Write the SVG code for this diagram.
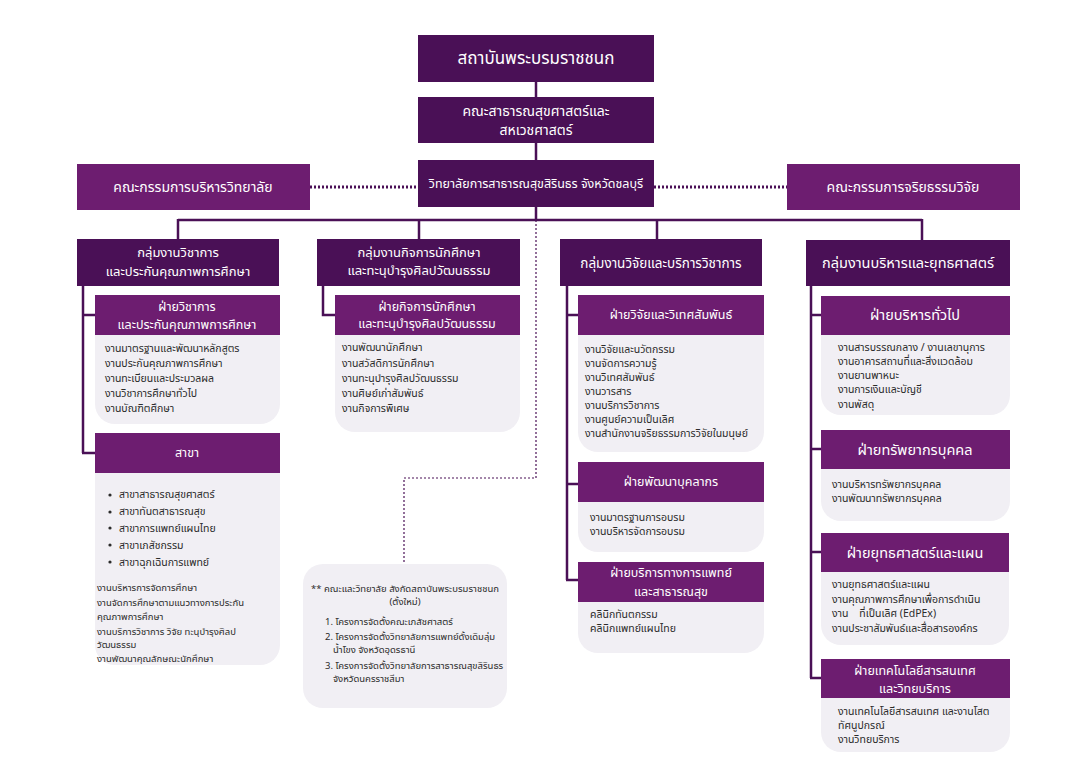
<svg xmlns="http://www.w3.org/2000/svg" width="1070" height="768" viewBox="0 0 1070 768">
<style>
text{font-family:"Noto Sans Thai","Noto Sans","Liberation Sans",sans-serif}
.dk{fill:#4a1056}
.mg{fill:#6d1d70}
.bd{fill:#f1eff4}
.wt{fill:#fff;text-anchor:middle}
.it{fill:#2b2b2b;font-size:10.5px}
.nt{fill:#2b2b2b;font-size:9.5px}
.ln{stroke:#4a1056;stroke-width:2.5;fill:none}
.dot{stroke:#4a1056;stroke-width:3;stroke-dasharray:2 2;fill:none}
.dot2{stroke:#4a1056;stroke-width:1.2;stroke-dasharray:2 2;fill:none}
</style>
<rect width="1070" height="768" fill="#fff"/>
<g id="connectors">
<path class="ln" d="M536 82V97M536 143V160M536 207V220M178 220H922M178 219V239M419 219V239M657 219V239M922 219V241"/>
<path class="dot" d="M310 187H418M654 187H787"/>
<path class="dot2" d="M536 220V478H404V564"/>
<path class="ln" d="M83 285V453M82 315H96M82 453H96"/>
<path class="ln" d="M323 285V315H336"/>
<path class="ln" d="M567 285V580M566 315H579M566 484H579M566 580H579"/>
<path class="ln" d="M811 285V678M810 315H822M810 449H822M810 552H822M810 678H822"/>
</g>
<g id="n-institute"><rect class="dk" x="418" y="35" width="236" height="47"/><text class="wt" x="536" y="64" font-size="17">สถาบันพระบรมราชชนก</text></g>
<g id="n-faculty"><rect class="dk" x="418" y="97" width="236" height="46"/><text class="wt" x="536" y="116" font-size="14">คณะสาธารณสุขศาสตร์และ</text><text class="wt" x="536" y="135" font-size="14">สหเวชศาสตร์</text></g>
<g id="n-college"><rect class="dk" x="418" y="160" width="236" height="47"/><text class="wt" x="536" y="188" font-size="12.5">วิทยาลัยการสาธารณสุขสิรินธร จังหวัดชลบุรี</text></g>
<g id="n-board"><rect class="mg" x="77" y="164" width="233" height="46"/><text class="wt" x="193" y="192" font-size="14">คณะกรรมการบริหารวิทยาลัย</text></g>
<g id="n-ethics"><rect class="mg" x="787" y="164" width="233" height="46"/><text class="wt" x="903" y="192" font-size="14">คณะกรรมการจริยธรรมวิจัย</text></g>

<g id="g1"><rect class="dk" x="77" y="239" width="202" height="47"/><text class="wt" x="178" y="257" font-size="13">กลุ่มงานวิชาการ</text><text class="wt" x="178" y="276" font-size="13">และประกันคุณภาพการศึกษา</text></g>
<g id="g2"><rect class="dk" x="317" y="239" width="203" height="47"/><text class="wt" x="419" y="257" font-size="13">กลุ่มงานกิจการนักศึกษา</text><text class="wt" x="419" y="275" font-size="13">และทะนุบำรุงศิลปวัฒนธรรม</text></g>
<g id="g3"><rect class="dk" x="560" y="239" width="202" height="47"/><text class="wt" x="661" y="268" font-size="13.5">กลุ่มงานวิจัยและบริการวิชาการ</text></g>
<g id="g4"><rect class="dk" x="806" y="240" width="204" height="46"/><text class="wt" x="908" y="268" font-size="14.5">กลุ่มงานบริหารและยุทธศาสตร์</text></g>

<g id="s1a"><rect class="bd" x="95" y="295" width="185" height="129" rx="20"/><rect class="mg" x="95" y="295" width="185" height="40"/>
<text class="wt" x="187" y="311" font-size="12.5">ฝ่ายวิชาการ</text><text class="wt" x="187" y="329" font-size="12.5">และประกันคุณภาพการศึกษา</text>
<text class="it" x="105" y="352">งานมาตรฐานและพัฒนาหลักสูตร</text><text class="it" x="105" y="367">งานประกันคุณภาพการศึกษา</text><text class="it" x="105" y="382">งานทะเบียนและประมวลผล</text><text class="it" x="105" y="397">งานวิชาการศึกษาทั่วไป</text><text class="it" x="105" y="412">งานบัณฑิตศึกษา</text></g>

<g id="s1b"><rect class="bd" x="95" y="433" width="185" height="232" rx="20"/><rect class="mg" x="95" y="433" width="185" height="40"/>
<text class="wt" x="187" y="457" font-size="12.5">สาขา</text>
<g><circle cx="110" cy="495" r="1.6" fill="#2b2b2b"/><circle cx="110" cy="512" r="1.6" fill="#2b2b2b"/><circle cx="110" cy="528" r="1.6" fill="#2b2b2b"/><circle cx="110" cy="545" r="1.6" fill="#2b2b2b"/><circle cx="110" cy="562" r="1.6" fill="#2b2b2b"/></g>
<text class="it" x="119" y="498">สาขาสาธารณสุขศาสตร์</text><text class="it" x="119" y="515">สาขาทันตสาธารณสุข</text><text class="it" x="119" y="532">สาขาการแพทย์แผนไทย</text><text class="it" x="119" y="549">สาขาเภสัชกรรม</text><text class="it" x="119" y="566">สาขาฉุกเฉินการแพทย์</text>
<text class="nt" x="97" y="591">งานบริหารการจัดการศึกษา</text><text class="nt" x="97" y="606">งานจัดการศึกษาตามแนวทางการประกัน</text><text class="nt" x="97" y="620">คุณภาพการศึกษา</text><text class="nt" x="97" y="635">งานบริการวิชาการ วิจัย ทะนุบำรุงศิลป</text><text class="nt" x="97" y="648">วัฒนธรรม</text><text class="nt" x="97" y="662">งานพัฒนาคุณลักษณะนักศึกษา</text></g>

<g id="s2"><rect class="bd" x="335" y="295" width="185" height="137" rx="20"/><rect class="mg" x="335" y="295" width="185" height="40"/>
<text class="wt" x="427" y="311" font-size="12.5">ฝ่ายกิจการนักศึกษา</text><text class="wt" x="427" y="328" font-size="12.5">และทะนุบำรุงศิลปวัฒนธรรม</text>
<text class="it" x="342" y="351">งานพัฒนานักศึกษา</text><text class="it" x="342" y="367">งานสวัสดิการนักศึกษา</text><text class="it" x="342" y="382">งานทะนุบำรุงศิลปวัฒนธรรม</text><text class="it" x="342" y="397">งานศิษย์เก่าสัมพันธ์</text><text class="it" x="342" y="412">งานกิจการพิเศษ</text></g>

<g id="note"><rect class="bd" x="303" y="564" width="204" height="144" rx="20"/>
<text class="nt" x="405" y="592" text-anchor="middle">** คณะและวิทยาลัย สังกัดสถาบันพระบรมราชชนก</text><text class="nt" x="405" y="605" text-anchor="middle">(ตั้งใหม่)</text>
<text class="nt" x="325" y="625">1. โครงการจัดตั้งคณะเภสัชศาสตร์</text><text class="nt" x="325" y="640">2. โครงการจัดตั้งวิทยาลัยการแพทย์ดั้งเดิมลุ่ม</text><text class="nt" x="333" y="653">น้ำโขง จังหวัดอุดรธานี</text><text class="nt" x="325" y="669">3. โครงการจัดตั้งวิทยาลัยการสาธารณสุขสิรินธร</text><text class="nt" x="333" y="682">จังหวัดนครราชสีมา</text></g>

<g id="s3a"><rect class="bd" x="578" y="295" width="186" height="157" rx="20"/><rect class="mg" x="578" y="295" width="186" height="40"/>
<text class="wt" x="671" y="319" font-size="12.5">ฝ่ายวิจัยและวิเทศสัมพันธ์</text>
<text class="it" x="585" y="353">งานวิจัยและนวัตกรรม</text><text class="it" x="585" y="367">งานจัดการความรู้</text><text class="it" x="585" y="381">งานวิเทศสัมพันธ์</text><text class="it" x="585" y="395">งานวารสาร</text><text class="it" x="585" y="409">งานบริการวิชาการ</text><text class="it" x="585" y="423">งานศูนย์ความเป็นเลิศ</text><text class="it" x="585" y="437">งานสำนักงานจริยธรรมการวิจัยในมนุษย์</text></g>

<g id="s3b"><rect class="bd" x="578" y="462" width="186" height="90" rx="20"/><rect class="mg" x="578" y="462" width="186" height="40"/>
<text class="wt" x="671" y="486" font-size="12.5">ฝ่ายพัฒนาบุคลากร</text>
<text class="it" x="590" y="521">งานมาตรฐานการอบรม</text><text class="it" x="590" y="535">งานบริหารจัดการอบรม</text></g>

<g id="s3c"><rect class="bd" x="578" y="562" width="186" height="91" rx="20"/><rect class="mg" x="578" y="562" width="186" height="40"/>
<text class="wt" x="671" y="577" font-size="12.5">ฝ่ายบริการทางการแพทย์</text><text class="wt" x="671" y="596" font-size="12.5">และสาธารณสุข</text>
<text class="it" x="590" y="618">คลินิกทันตกรรม</text><text class="it" x="590" y="632">คลินิกแพทย์แผนไทย</text></g>

<g id="s4a"><rect class="bd" x="821" y="296" width="189" height="119" rx="20"/><rect class="mg" x="821" y="296" width="189" height="39"/>
<text class="wt" x="915" y="320" font-size="14.5">ฝ่ายบริหารทั่วไป</text>
<text class="it" x="838" y="351">งานสารบรรณกลาง / งานเลขานุการ</text><text class="it" x="838" y="365">งานอาคารสถานที่และสิ่งแวดล้อม</text><text class="it" x="838" y="379">งานยานพาหนะ</text><text class="it" x="838" y="393">งานการเงินและบัญชี</text><text class="it" x="838" y="408">งานพัสดุ</text></g>

<g id="s4b"><rect class="bd" x="821" y="430" width="189" height="91" rx="20"/><rect class="mg" x="821" y="430" width="189" height="39"/>
<text class="wt" x="915" y="455" font-size="14.5">ฝ่ายทรัพยากรบุคคล</text>
<text class="it" x="832" y="488">งานบริหารทรัพยากรบุคคล</text><text class="it" x="832" y="502">งานพัฒนาทรัพยากรบุคคล</text></g>

<g id="s4c"><rect class="bd" x="821" y="533" width="188" height="112" rx="20"/><rect class="mg" x="821" y="533" width="188" height="39"/>
<text class="wt" x="915" y="558" font-size="14.5">ฝ่ายยุทธศาสตร์และแผน</text>
<text class="it" x="832" y="588">งานยุทธศาสตร์และแผน</text><text class="it" x="832" y="603">งานคุณภาพการศึกษาเพื่อการดำเนิน</text><text class="it" x="832" y="617">งาน&#160;&#160;&#160;&#160;ที่เป็นเลิศ (EdPEx)</text><text class="it" x="832" y="632">งานประชาสัมพันธ์และสื่อสารองค์กร</text></g>

<g id="s4d"><rect class="bd" x="821" y="659" width="189" height="93" rx="20"/><rect class="mg" x="821" y="659" width="189" height="39"/>
<text class="wt" x="915" y="675" font-size="12.5">ฝ่ายเทคโนโลยีสารสนเทศ</text><text class="wt" x="915" y="693" font-size="12.5">และวิทยบริการ</text>
<text class="it" x="838" y="715">งานเทคโนโลยีสารสนเทศ และงานโสต</text><text class="it" x="838" y="729">ทัศนูปกรณ์</text><text class="it" x="838" y="743">งานวิทยบริการ</text></g>
</svg>
